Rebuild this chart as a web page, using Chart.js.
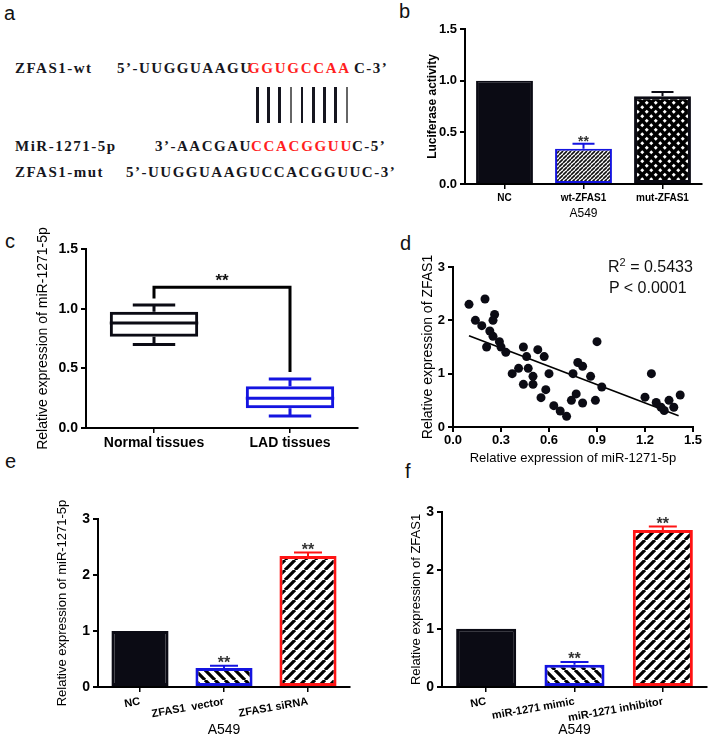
<!DOCTYPE html>
<html>
<head>
<meta charset="utf-8">
<script src="https://cdn.jsdelivr.net/npm/chart.js@4.4.0/dist/chart.umd.min.js"></script>
<style>
  body { margin: 0; background: #fff; }
  #page { position: relative; width: 709px; height: 739px; overflow: hidden; font-family: 'Liberation Sans', Arial, sans-serif; }
  canvas { position: absolute; }
  .lbl { position: absolute; font-size: 20px; line-height: 1; color: #111; }
  .seq { position: absolute; font-family: 'Liberation Serif', 'Times New Roman', serif; font-weight: bold; font-size: 15px;
         line-height: 1; letter-spacing: 1.5px; white-space: pre; color: #161620; }
  .red { color: #ff1f1f; letter-spacing: 1.7px; }
  .pair { position: absolute; top: 87px; width: 2.5px; height: 36px; background: #15151f; }
  .note { position: absolute; font-size: 16px; line-height: 1; color: #111; white-space: pre; }
  .note sup { font-size: 11px; vertical-align: 6px; }
</style>
</head>
<body>
<div id="page">
  <!-- panel letters -->
  <div class="lbl" style="left:4px;top:3px">a</div>
  <div class="lbl" style="left:399px;top:1px">b</div>
  <div class="lbl" style="left:5px;top:231px">c</div>
  <div class="lbl" style="left:400px;top:233px">d</div>
  <div class="lbl" style="left:5px;top:451px">e</div>
  <div class="lbl" style="left:405px;top:461px">f</div>

  <!-- panel a: binding site -->
  <div class="seq" style="left:15px;top:61px">ZFAS1-wt</div>
  <div class="seq" style="left:117px;top:61px">5’-UUGGUAAGU</div>
  <div class="seq red" style="left:248px;top:61px">GGUGCCAA</div>
  <div class="seq" style="left:354px;top:61px">C-3’</div>
  <div id="pairs"></div>
  <div class="seq" style="left:15px;top:139px">MiR-1271-5p</div>
  <div class="seq" style="left:155px;top:139px">3’-AACGAU</div>
  <div class="seq red" style="left:251px;top:139px">CCACGGUU</div>
  <div class="seq" style="left:352px;top:139px">C-5’</div>
  <div class="seq" style="left:15px;top:165px">ZFAS1-mut</div>
  <div class="seq" style="left:126px;top:165px">5’-UUGGUAAGUCCACGGUUC-3’</div>

  <canvas id="chartB"></canvas>
  <canvas id="chartC"></canvas>
  <canvas id="chartD"></canvas>
  <canvas id="chartE"></canvas>
  <canvas id="chartF"></canvas>

  <div class="note" style="left:608px;top:257px">R<sup>2</sup> = 0.5433</div>
  <div class="note" style="left:609px;top:280px">P &lt; 0.0001</div>
</div>

<script>
// ---- panel b: luciferase ----
const bCategories = ['NC', 'wt-ZFAS1', 'mut-ZFAS1'];
const bValues = [1.0, 0.34, 0.85];
const bErrors = [0, 0.05, 0.04];
const bStars = ['', '**', ''];
const bTicks = [0, 0.5, 1.0, 1.5];

// ---- panel c: box plot ----
const cCategories = ['Normal tissues', 'LAD tissues'];
const cMin = [0.70, 0.10];
const cQ1 = [0.765, 0.165];
const cMedian = [0.88, 0.25];
const cQ3 = [0.975, 0.35];
const cMax = [1.03, 0.41];
const cBracket = [1.085, 1.18, 0.47]; // left foot, top, right foot
const cTicks = [0, 0.5, 1.0, 1.5];

// ---- panel d: correlation ----
const dX = [0.10, 0.20, 0.14, 0.18, 0.26, 0.25, 0.23, 0.25, 0.21, 0.29, 0.30, 0.33, 0.37, 0.41, 0.44, 0.46,
            0.47, 0.44, 0.50, 0.50, 0.53, 0.57, 0.55, 0.58, 0.60, 0.63, 0.67, 0.71, 0.75, 0.74, 0.77, 0.78,
            0.81, 0.81, 0.86, 0.89, 0.90, 0.93, 1.20, 1.24, 1.27, 1.30, 1.32, 1.35, 1.38, 1.42];
const dY = [2.30, 2.40, 2.00, 1.90, 2.11, 2.00, 1.80, 1.70, 1.50, 1.60, 1.50, 1.40, 1.00, 1.10, 1.50, 1.32,
            1.10, 0.80, 0.95, 0.80, 1.45, 1.32, 0.55, 0.70, 1.00, 0.40, 0.30, 0.20, 1.00, 0.50, 0.62, 1.21,
            1.14, 0.45, 0.95, 0.50, 1.60, 0.75, 0.56, 1.00, 0.46, 0.37, 0.31, 0.50, 0.37, 0.60];
const dFitX = [0.10, 1.41];
const dFitY = [1.71, 0.21];
const dXTicks = [0, 0.3, 0.6, 0.9, 1.2, 1.5];
const dYTicks = [0, 1, 2, 3];

// ---- panel e ----
const eCategories = ['NC', 'ZFAS1  vector', 'ZFAS1 siRNA'];
const eValues = [1.0, 0.34, 2.34];
const eErrors = [0, 0.04, 0.06];
const eStars = ['', '**', '**'];
const eTicks = [0, 1, 2, 3];

// ---- panel f ----
const fCategories = ['NC', 'miR-1271 mimic', 'miR-1271 inhibitor'];
const fValues = [1.0, 0.38, 2.69];
const fErrors = [0, 0.05, 0.06];
const fStars = ['', '**', '**'];
const fTicks = [0, 1, 2, 3];

const BLACK = '#0b0b14';
const BLUE = '#1414e0';
const RED = '#ff1414';

Chart.defaults.font.family = "'Liberation Sans', Arial, sans-serif";
Chart.defaults.color = '#000';
Chart.defaults.animation = false;
Chart.defaults.responsive = false;
Chart.defaults.plugins.legend.display = false;
Chart.defaults.plugins.tooltip.enabled = false;

// base-pairing strokes in panel a
const pairs = document.getElementById('pairs');
for (let i = 0; i < 9; i++) {
  const d = document.createElement('div');
  d.className = 'pair';
  d.style.left = (256 + i * 11.2) + 'px';
  if (i === 3 || i === 8) d.style.background = '#666';
  pairs.appendChild(d);
}

function place(id, left, top, w, h) {
  const cv = document.getElementById(id);
  cv.width = w; cv.height = h;
  cv.style.left = left + 'px'; cv.style.top = top + 'px';
  cv.style.width = w + 'px'; cv.style.height = h + 'px';
  return cv;
}

function stripes(dir, size, lw, fg) {
  const c = document.createElement('canvas');
  c.width = c.height = size;
  const g = c.getContext('2d');
  g.fillStyle = '#fff'; g.fillRect(0, 0, size, size);
  g.strokeStyle = fg; g.lineWidth = lw;
  g.beginPath();
  for (let k = -1; k <= 1; k++) {
    if (dir === '/') { g.moveTo(k * size, size); g.lineTo(k * size + size, 0); }
    else { g.moveTo(k * size, 0); g.lineTo(k * size + size, size); }
  }
  g.stroke();
  return g.createPattern(c, 'repeat');
}

function diamonds() {
  const c = document.createElement('canvas');
  c.width = c.height = 9;
  const g = c.getContext('2d');
  g.fillStyle = '#000'; g.fillRect(0, 0, 9, 9);
  g.fillStyle = '#fff';
  [[2.25, 2.25], [6.75, 6.75]].forEach(([x, y]) => {
    g.beginPath(); g.moveTo(x, y - 2); g.lineTo(x + 2, y); g.lineTo(x, y + 2); g.lineTo(x - 2, y); g.closePath(); g.fill();
  });
  return g.createPattern(c, 'repeat');
}

function yAxis(ticks, dec, width, title, titleFont, titlePad, tickFont) {
  return {
    min: ticks[0], max: ticks[ticks.length - 1],
    afterBuildTicks: s => { s.ticks = ticks.map(v => ({ value: v })); },
    afterFit: s => { s.width = width; },
    border: { color: '#000', width: 2 },
    grid: { drawOnChartArea: false, color: '#000', lineWidth: 2, tickLength: 5 },
    ticks: { font: tickFont, padding: 3, callback: v => Number(v).toFixed(dec) },
    title: { display: true, text: title, font: titleFont, padding: { top: titlePad, bottom: 0 } }
  };
}

function catAxis(height, tickFont, tickPad, rot, title, titleFont, titlePad) {
  return {
    afterFit: s => { s.height = height; },
    border: { color: '#000', width: 2 },
    grid: { offset: false, drawOnChartArea: false, color: '#000', lineWidth: 1.5, tickLength: 5 },
    ticks: { font: tickFont, padding: tickPad, autoSkip: false, minRotation: rot, maxRotation: rot },
    title: { display: !!title, text: title || '', font: titleFont, padding: { top: 0, bottom: titlePad } }
  };
}

// error bars + significance stars on top of bars
const errorBars = {
  id: 'errorBars',
  afterDatasetsDraw(chart, args, o) {
    const ctx = chart.ctx;
    const y = chart.scales.y;
    const meta = chart.getDatasetMeta(0);
    o.errors.forEach((e, i) => {
      const bar = meta.data[i];
      const v = o.values[i];
      const top = y.getPixelForValue(v + e);
      ctx.save();
      if (e > 0) {
        ctx.strokeStyle = o.colors[i];
        ctx.lineWidth = 2;
        ctx.beginPath();
        ctx.moveTo(bar.x, y.getPixelForValue(v));
        ctx.lineTo(bar.x, top);
        ctx.moveTo(bar.x - o.cap / 2, top);
        ctx.lineTo(bar.x + o.cap / 2, top);
        ctx.stroke();
      }
      if (o.stars[i]) {
        ctx.fillStyle = '#333';
        ctx.font = o.starFont;
        ctx.textAlign = 'center';
        ctx.textBaseline = 'alphabetic';
        ctx.fillText(o.stars[i], bar.x, top + o.starOff);
      }
      ctx.restore();
    });
  }
};

// ---- b ----
place('chartB', 415, 15, 294, 215);
new Chart(document.getElementById('chartB'), {
  type: 'bar',
  data: {
    labels: bCategories,
    datasets: [{
      data: bValues,
      backgroundColor: [BLACK, stripes('/', 4, 1.6, '#111'), diamonds()],
      borderColor: [BLACK, BLUE, BLACK],
      borderWidth: [2, 2, 3],
      borderSkipped: false,
      categoryPercentage: 1,
      barPercentage: 0.72
    }]
  },
  options: {
    layout: { padding: { left: 0, right: 7, top: 14, bottom: 0 } },
    scales: {
      x: catAxis(46, { size: 10, weight: 'bold' }, 3, 0, 'A549', { size: 12 }, 9),
      y: yAxis(bTicks, 1, 50, 'Luciferase activity', { size: 12, weight: 'bold' }, 10, { size: 13, weight: 'bold' })
    },
    plugins: {
      errorBars: { values: bValues, errors: bErrors, stars: bStars, colors: [BLACK, BLUE, BLACK], cap: 22,
                   starFont: 'bold 14px "Liberation Sans", Arial', starOff: 2 }
    }
  },
  plugins: [errorBars]
});

// ---- c ----
const boxParts = {
  id: 'boxParts',
  afterDatasetsDraw(chart) {
    const ctx = chart.ctx;
    const x = chart.scales.x, y = chart.scales.y;
    const meta = chart.getDatasetMeta(0);
    const colors = [BLACK, BLUE];
    ctx.save();
    ctx.lineWidth = 3;
    cCategories.forEach((c, i) => {
      const bar = meta.data[i];
      const half = bar.width / 2;
      const cap = bar.width * 0.24;
      ctx.strokeStyle = colors[i];
      ctx.beginPath();
      ctx.moveTo(bar.x - half, y.getPixelForValue(cMedian[i]));
      ctx.lineTo(bar.x + half, y.getPixelForValue(cMedian[i]));
      ctx.moveTo(bar.x, y.getPixelForValue(cQ3[i]));
      ctx.lineTo(bar.x, y.getPixelForValue(cMax[i]));
      ctx.moveTo(bar.x - cap, y.getPixelForValue(cMax[i]));
      ctx.lineTo(bar.x + cap, y.getPixelForValue(cMax[i]));
      ctx.moveTo(bar.x, y.getPixelForValue(cQ1[i]));
      ctx.lineTo(bar.x, y.getPixelForValue(cMin[i]));
      ctx.moveTo(bar.x - cap, y.getPixelForValue(cMin[i]));
      ctx.lineTo(bar.x + cap, y.getPixelForValue(cMin[i]));
      ctx.stroke();
    });
    // significance bracket
    const x0 = x.getPixelForValue(0), x1 = x.getPixelForValue(1);
    ctx.strokeStyle = '#000';
    ctx.lineWidth = 3;
    ctx.beginPath();
    ctx.moveTo(x0, y.getPixelForValue(cBracket[0]));
    ctx.lineTo(x0, y.getPixelForValue(cBracket[1]));
    ctx.lineTo(x1, y.getPixelForValue(cBracket[1]));
    ctx.lineTo(x1, y.getPixelForValue(cBracket[2]));
    ctx.stroke();
    ctx.fillStyle = '#111';
    ctx.font = 'bold 17px "Liberation Sans", Arial';
    ctx.textAlign = 'center';
    ctx.fillText('**', (x0 + x1) / 2, y.getPixelForValue(cBracket[1]) - 1);
    ctx.restore();
  }
};

place('chartC', 30, 205, 335, 260);
new Chart(document.getElementById('chartC'), {
  type: 'bar',
  data: {
    labels: cCategories,
    datasets: [{
      data: cQ1.map((q, i) => [q, cQ3[i]]),
      backgroundColor: 'rgba(0,0,0,0)',
      borderColor: [BLACK, BLUE],
      borderWidth: 3,
      borderSkipped: false,
      categoryPercentage: 1,
      barPercentage: 0.65
    }]
  },
  options: {
    layout: { padding: { left: 0, right: 7, top: 44, bottom: 10 } },
    scales: {
      x: catAxis(27, { size: 14, weight: 'bold' }, 2, 0),
      y: yAxis(cTicks, 1, 56, 'Relative expression of miR-1271-5p', { size: 14 }, 5, { size: 14, weight: 'bold' })
    }
  },
  plugins: [boxParts]
});

// ---- d ----
place('chartD', 415, 230, 294, 240);
new Chart(document.getElementById('chartD'), {
  type: 'scatter',
  data: {
    datasets: [{
      data: dX.map((v, i) => ({ x: v, y: dY[i] })),
      backgroundColor: BLACK,
      borderWidth: 0,
      pointRadius: 4.5
    }, {
      data: dFitX.map((v, i) => ({ x: v, y: dFitY[i] })),
      showLine: true,
      borderColor: '#000',
      borderWidth: 1.6,
      pointRadius: 0
    }]
  },
  options: {
    layout: { padding: { left: 0, right: 16, top: 37, bottom: 0 } },
    scales: {
      x: {
        type: 'linear', min: dXTicks[0], max: dXTicks[dXTicks.length - 1],
        afterBuildTicks: s => { s.ticks = dXTicks.map(v => ({ value: v })); },
        afterFit: s => { s.height = 43; },
        border: { color: '#000', width: 2 },
        grid: { drawOnChartArea: false, color: '#000', lineWidth: 2, tickLength: 5 },
        ticks: { font: { size: 13, weight: 'bold' }, padding: 1, callback: v => Number(v).toFixed(1) },
        title: { display: true, text: 'Relative expression of miR-1271-5p', font: { size: 13 }, padding: { top: 0, bottom: 4 } }
      },
      y: yAxis(dYTicks, 0, 38, 'Relative expression of ZFAS1', { size: 14 }, 5, { size: 13, weight: 'bold' })
    }
  }
});

// ---- e ----
place('chartE', 45, 470, 315, 269);
new Chart(document.getElementById('chartE'), {
  type: 'bar',
  data: {
    labels: eCategories,
    datasets: [{
      data: eValues,
      backgroundColor: [BLACK, stripes('\\', 10, 3.2, '#000'), stripes('/', 10, 3.2, '#000')],
      borderColor: [BLACK, BLUE, RED],
      borderWidth: 3,
      borderSkipped: false,
      categoryPercentage: 1,
      barPercentage: 0.68
    }]
  },
  options: {
    layout: { padding: { left: 0, right: 10, top: 49, bottom: 0 } },
    scales: {
      x: catAxis(52, { size: 11, weight: 'bold' }, 3, 10, 'A549', { size: 14 }, 0),
      y: yAxis(eTicks, 0, 53, 'Relative expression of miR-1271-5p', { size: 13 }, 10, { size: 14, weight: 'bold' })
    },
    plugins: {
      errorBars: { values: eValues, errors: eErrors, stars: eStars, colors: [BLACK, BLUE, RED], cap: 28,
                   starFont: 'bold 16px "Liberation Sans", Arial', starOff: 2 }
    }
  },
  plugins: [errorBars]
});

// ---- f ----
place('chartF', 395, 470, 314, 269);
new Chart(document.getElementById('chartF'), {
  type: 'bar',
  data: {
    labels: fCategories,
    datasets: [{
      data: fValues,
      backgroundColor: [BLACK, stripes('\\', 10, 3.2, '#000'), stripes('/', 10, 3.2, '#000')],
      borderColor: [BLACK, BLUE, RED],
      borderWidth: 3,
      borderSkipped: false,
      categoryPercentage: 1,
      barPercentage: 0.68
    }]
  },
  options: {
    layout: { padding: { left: 0, right: 2, top: 42, bottom: 0 } },
    scales: {
      x: catAxis(52, { size: 11, weight: 'bold' }, 3, 10, 'A549', { size: 14 }, 0),
      y: yAxis(fTicks, 0, 47, 'Relative expression of ZFAS1', { size: 13 }, 14, { size: 14, weight: 'bold' })
    },
    plugins: {
      errorBars: { values: fValues, errors: fErrors, stars: fStars, colors: [BLACK, BLUE, RED], cap: 28,
                   starFont: 'bold 16px "Liberation Sans", Arial', starOff: 2 }
    }
  },
  plugins: [errorBars]
});
</script>
</body>
</html>
